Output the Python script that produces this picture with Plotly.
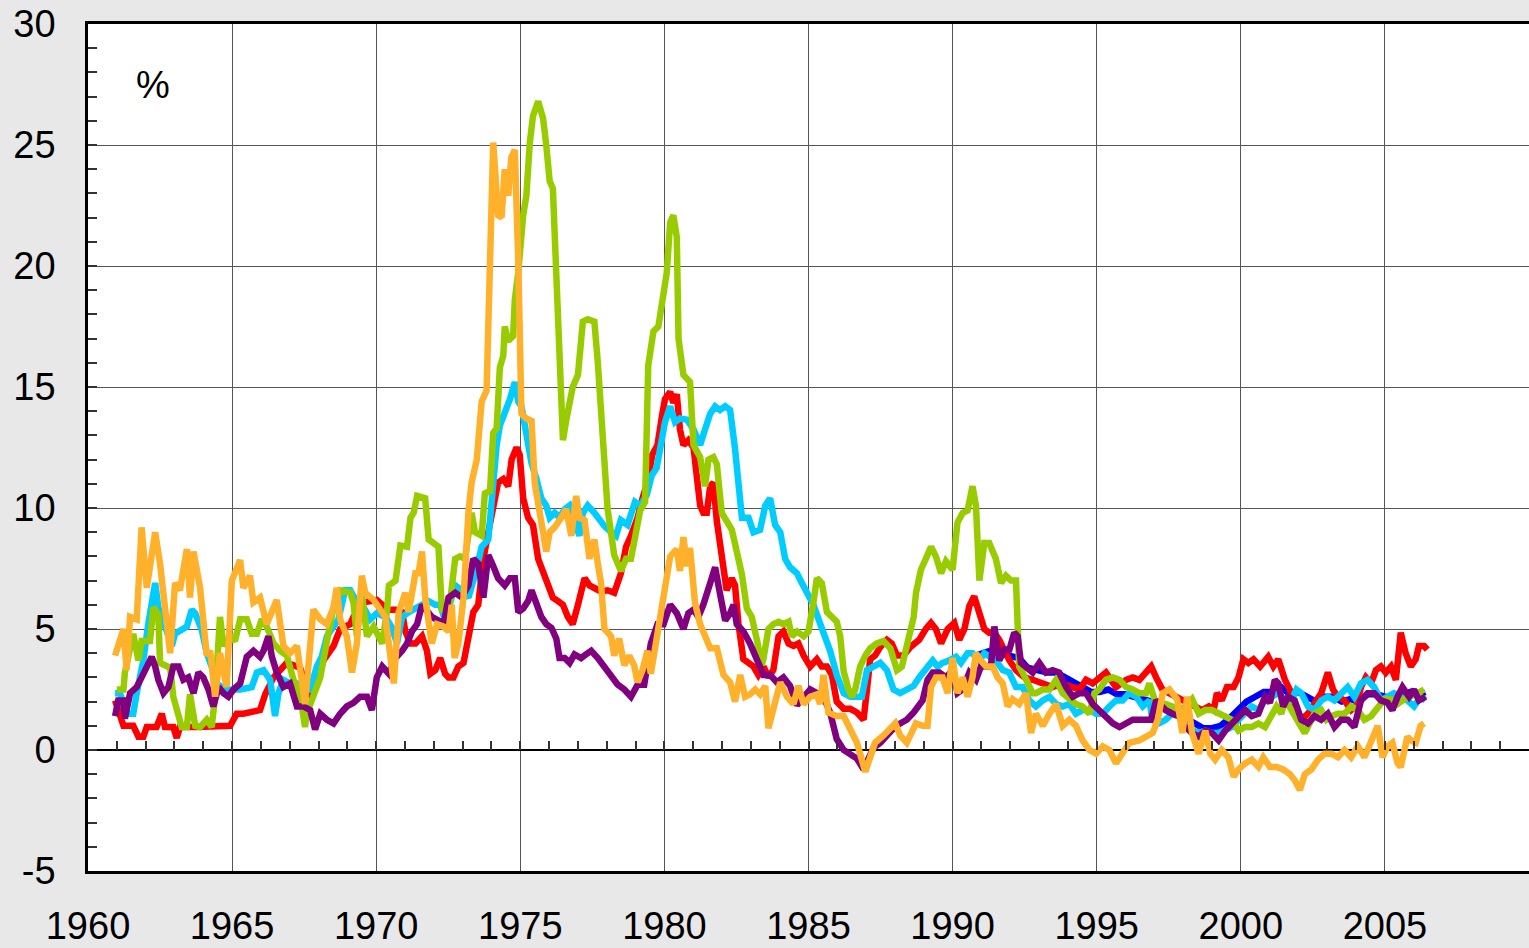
import plotly.graph_objects as go

# inflation rates, %
orange_x = [1960.94, 1961.05, 1961.23, 1961.34, 1961.46, 1961.69, 1961.86, 1962.04, 1962.15, 1962.33,
            1962.5, 1962.85, 1963.02, 1963.19, 1963.43, 1963.54, 1963.66, 1963.89, 1964.12, 1964.24,
            1964.41, 1964.58, 1964.81, 1964.99, 1965.28, 1965.39, 1965.62, 1965.74, 1965.97, 1966.2,
            1966.55, 1966.78, 1967.01, 1967.25, 1967.53, 1967.82, 1968.06, 1968.29, 1968.52, 1968.63,
            1968.75, 1968.98, 1969.16, 1969.33, 1969.5, 1969.62, 1969.91, 1970.32, 1970.61, 1970.78,
            1971.01, 1971.13, 1971.36, 1971.47, 1971.59, 1971.7, 1971.93, 1972.11, 1972.34, 1972.51,
            1972.62, 1972.72, 1972.85, 1973.03, 1973.2, 1973.31, 1973.49, 1973.66, 1973.83, 1973.95,
            1974.06, 1974.23, 1974.35, 1974.46, 1974.58, 1974.69, 1974.81, 1974.93, 1975.04, 1975.21,
            1975.39, 1975.5, 1975.73, 1975.9, 1976.02, 1976.19, 1976.42, 1976.59, 1976.77, 1976.94,
            1977.05, 1977.23, 1977.4, 1977.57, 1977.69, 1977.8, 1977.92, 1978.15, 1978.26, 1978.43,
            1978.61, 1978.78, 1978.95, 1979.07, 1979.24, 1979.41, 1979.53, 1979.76, 1979.93, 1980.2,
            1980.43, 1980.54, 1980.66, 1980.78, 1980.89, 1981.06, 1981.24, 1981.41, 1981.59, 1981.82,
            1982.05, 1982.28, 1982.45, 1982.63, 1982.8, 1982.97, 1983.15, 1983.32, 1983.5, 1983.61,
            1983.78, 1984.02, 1984.25, 1984.48, 1984.65, 1984.83, 1985.06, 1985.29, 1985.4, 1985.52,
            1985.69, 1985.98, 1986.22, 1986.45, 1986.68, 1986.97, 1987.14, 1987.31, 1987.6, 1987.84,
            1988.01, 1988.18, 1988.41, 1988.59, 1988.73, 1988.96, 1989.13, 1989.25, 1989.42, 1989.65,
            1989.83, 1990.0, 1990.17, 1990.35, 1990.52, 1990.69, 1990.81, 1990.98, 1991.16, 1991.39,
            1991.56, 1991.74, 1991.91, 1992.08, 1992.31, 1992.55, 1992.72, 1992.89, 1993.13, 1993.36,
            1993.59, 1993.82, 1994.05, 1994.28, 1994.51, 1994.75, 1994.98, 1995.21, 1995.44, 1995.67,
            1995.9, 1996.13, 1996.48, 1996.71, 1996.94, 1997.12, 1997.29, 1997.52, 1997.79, 1997.97,
            1998.14, 1998.31, 1998.54, 1998.77, 1998.94, 1999.11, 1999.34, 1999.57, 1999.75, 1999.92,
            2000.15, 2000.38, 2000.61, 2000.78, 2001.01, 2001.24, 2001.47, 2001.7, 2001.87, 2002.05,
            2002.22, 2002.45, 2002.68, 2002.91, 2003.14, 2003.37, 2003.6, 2003.83, 2004.06, 2004.29,
            2004.52, 2004.75, 2004.92, 2005.09, 2005.26, 2005.44, 2005.55, 2005.78, 2005.9, 2006.07,
            2006.24, 2006.36]
orange_y = [3.9, 4.4, 5.0, 3.3, 5.5, 5.4, 9.2, 6.7, 7.7, 9.0,
            7.7, 4.0, 6.9, 6.6, 8.3, 6.3, 8.2, 6.7, 3.9, 4.1,
            2.2, 4.0, 2.6, 7.0, 7.85, 6.7, 7.2, 6.1, 6.3, 5.2,
            6.2, 4.3, 4.0, 4.3, 1.9, 5.8, 5.4, 5.2, 5.9, 6.7,
            5.4, 4.7, 3.2, 4.4, 7.2, 6.5, 6.2, 5.5, 2.75, 5.7,
            6.5, 5.7, 7.3, 7.3, 8.2, 6.3, 4.4, 5.2, 5.1, 4.9,
            6.0, 3.8, 4.4, 6.3, 9.8, 11.05, 12.0, 14.4, 14.85, 21.8,
            25.1, 22.1, 22.0, 24.0, 22.9, 24.5, 24.8, 20.2, 13.9, 13.7,
            13.6, 11.05, 9.5, 8.2, 9.0, 9.2, 9.6, 9.95, 8.85, 10.5,
            9.6, 9.5, 7.9, 8.7, 7.7, 6.9, 5.0, 4.7, 3.9, 4.6,
            3.5, 3.9, 3.5, 2.8, 3.3, 4.1, 3.15, 4.7, 5.8, 8.0,
            8.3, 7.4, 8.8, 7.6, 8.35, 6.1, 5.2, 4.7, 4.2, 4.2,
            3.1, 2.8, 2.0, 3.1, 2.2, 2.3, 2.5, 2.3, 2.65, 0.9,
            1.7, 2.8, 2.2, 1.9, 2.65, 1.9, 2.2, 2.3, 1.9, 3.1,
            1.55, 1.4, 1.4, 0.9, 0.3, -0.9, -0.2, 0.3, 0.6, 0.9,
            1.1, 0.6, 0.3, 0.75, 1.1, 1.0, 1.0, 2.6, 3.0, 3.0,
            2.35, 3.8, 2.35, 3.0, 2.2, 3.0, 4.0, 3.7, 3.45, 3.45,
            3.0, 2.75, 1.8, 2.1, 1.9, 2.35, 0.7, 1.5, 1.0, 1.5,
            1.9, 1.0, 1.25, 1.0, 0.4, 0.0, -0.15, 0.15, 0.0, -0.55,
            -0.15, 0.3, 0.4, 0.55, 0.7, 1.25, 2.35, 2.5, 2.1, 0.7,
            2.2, 0.7, -0.15, 0.8, -0.15, -0.4, 0.0, -0.3, -1.1, -0.8,
            -0.55, -0.4, -0.7, -0.3, -0.7, -0.7, -0.8, -1.0, -1.25, -1.65,
            -1.0, -0.8, -0.4, -0.15, -0.15, -0.3, 0.0, -0.3, 0.15, -0.3,
            0.3, 1.0, -0.3, 0.15, 0.3, -0.55, -0.7, 0.55, 0.4, 0.3,
            1.0, 1.1]

green_x = [1961.0, 1961.23, 1961.28, 1961.57, 1961.75, 1961.86, 1962.15, 1962.27, 1962.44, 1962.5,
           1962.85, 1962.96, 1963.25, 1963.43, 1963.54, 1963.72, 1963.89, 1964.12, 1964.29, 1964.41,
           1964.58, 1964.7, 1964.93, 1965.1, 1965.28, 1965.51, 1965.68, 1965.86, 1966.03, 1966.2,
           1966.44, 1966.67, 1966.9, 1967.13, 1967.36, 1967.53, 1967.59, 1967.82, 1968.06, 1968.29,
           1968.52, 1968.75, 1969.1, 1969.21, 1969.33, 1969.5, 1969.68, 1969.91, 1970.21, 1970.38,
           1970.44, 1970.67, 1970.84, 1971.07, 1971.19, 1971.3, 1971.42, 1971.7, 1971.82, 1972.05,
           1972.16, 1972.28, 1972.45, 1972.57, 1972.74, 1972.91, 1973.08, 1973.31, 1973.43, 1973.66,
           1973.77, 1973.95, 1974.06, 1974.18, 1974.29, 1974.41, 1974.46, 1974.58, 1974.75, 1974.81,
           1974.93, 1975.1, 1975.21, 1975.33, 1975.44, 1975.62, 1975.79, 1975.9, 1976.02, 1976.13,
           1976.25, 1976.36, 1976.48, 1976.59, 1976.71, 1976.82, 1977.0, 1977.05, 1977.17, 1977.34,
           1977.57, 1977.69, 1977.8, 1977.92, 1978.03, 1978.26, 1978.49, 1978.67, 1978.84, 1979.16,
           1979.33, 1979.44, 1979.62, 1979.79, 1979.97, 1980.08, 1980.2, 1980.31, 1980.43, 1980.49,
           1980.66, 1980.89, 1981.01, 1981.24, 1981.41, 1981.53, 1981.7, 1981.82, 1981.99, 1982.16,
           1982.34, 1982.51, 1982.69, 1982.86, 1983.03, 1983.21, 1983.38, 1983.44, 1983.61, 1983.78,
           1983.96, 1984.13, 1984.31, 1984.42, 1984.6, 1984.83, 1985.0, 1985.17, 1985.29, 1985.46,
           1985.64, 1985.81, 1985.98, 1986.1, 1986.22, 1986.39, 1986.51, 1986.62, 1986.79, 1986.97,
           1987.14, 1987.37, 1987.6, 1987.84, 1988.07, 1988.24, 1988.47, 1988.65, 1988.73, 1988.9,
           1989.07, 1989.25, 1989.42, 1989.6, 1989.77, 1990.0, 1990.17, 1990.35, 1990.52, 1990.69,
           1990.81, 1990.93, 1991.1, 1991.27, 1991.5, 1991.68, 1991.85, 1992.03, 1992.2, 1992.26,
           1992.31, 1992.43, 1992.6, 1992.78, 1992.89, 1993.13, 1993.36, 1993.59, 1993.82, 1994.05,
           1994.28, 1994.51, 1994.75, 1994.92, 1995.09, 1995.32, 1995.56, 1995.79, 1996.02, 1996.25,
           1996.48, 1996.71, 1996.83, 1997.06, 1997.39, 1997.62, 1997.85, 1998.08, 1998.31, 1998.54,
           1998.77, 1999.0, 1999.23, 1999.46, 1999.69, 1999.92, 2000.15, 2000.38, 2000.61, 2000.84,
           2001.07, 2001.24, 2001.41, 2001.53, 2001.76, 2001.87, 2002.1, 2002.22, 2002.39, 2002.56,
           2002.79, 2002.97, 2003.14, 2003.37, 2003.6, 2003.83, 2004.06, 2004.29, 2004.52, 2004.75,
           2004.98, 2005.21, 2005.44, 2005.67, 2005.9, 2006.13, 2006.36]
green_y = [2.5, 2.5, 3.2, 4.8, 3.7, 4.5, 4.5, 5.9, 5.6, 3.6,
           3.4, 2.2, 0.95, 0.95, 2.3, 1.0, 0.95, 1.25, 0.95, 2.2,
           5.5, 4.3, 4.7, 4.5, 5.4, 5.4, 4.8, 4.8, 5.4, 5.1,
           4.4, 4.1, 3.9, 2.9, 2.3, 0.95, 1.5, 2.2, 3.0, 4.5,
           5.9, 6.6, 6.5, 6.1, 4.7, 6.5, 4.7, 5.1, 4.4, 5.8,
           6.8, 7.0, 8.45, 8.4, 9.6, 9.8, 10.5, 10.4, 8.7, 8.5,
           8.4, 5.8, 5.8, 6.2, 7.9, 8.0, 7.9, 9.8, 9.0, 8.85,
           10.6, 10.7, 13.1, 13.3, 15.8, 16.3, 17.5, 16.9, 17.1, 18.6,
           19.75, 22.1, 22.9, 25.1, 26.2, 26.8, 26.1, 25.0, 23.5, 23.2,
           19.75, 15.3, 12.8, 13.6, 14.5, 15.0, 15.5, 16.3, 17.7, 17.8,
           17.7, 16.0, 14.2, 12.3, 9.95, 8.05, 7.4, 7.9, 7.9, 9.9,
           10.25, 15.9, 17.3, 17.5, 18.9, 19.7, 21.8, 22.1, 21.2, 17.0,
           15.5, 15.2, 12.6, 12.1, 10.9, 12.0, 12.1, 11.8, 9.8, 9.45,
           9.1, 8.2, 7.25, 5.85, 5.5, 4.55, 3.5, 3.8, 5.0, 5.2,
           5.3, 5.2, 5.3, 4.7, 4.9, 4.7, 4.9, 6.1, 7.1, 6.9,
           5.7, 5.5, 5.3, 4.7, 3.25, 2.5, 2.2, 2.5, 3.45, 3.9,
           4.2, 4.4, 4.5, 4.2, 3.3, 3.45, 4.55, 5.5, 6.5, 7.45,
           7.9, 8.4, 8.0, 7.3, 7.8, 7.45, 9.4, 9.8, 9.9, 10.9,
           10.1, 7.0, 8.55, 8.55, 7.9, 6.9, 7.2, 7.0, 7.0, 5.1,
           3.45, 3.2, 2.75, 2.35, 2.35, 2.5, 2.5, 2.9, 2.35, 2.1,
           1.9, 1.8, 1.5, 2.35, 2.5, 2.9, 3.0, 2.9, 2.6, 2.5,
           2.35, 2.35, 2.75, 1.9, 1.9, 1.8, 1.65, 1.8, 2.1, 1.5,
           1.65, 1.65, 1.5, 1.4, 1.25, 0.8, 0.95, 0.95, 1.1, 0.95,
           1.4, 1.8, 1.5, 2.1, 1.65, 1.4, 0.95, 0.7, 1.1, 1.5,
           1.65, 1.25, 1.4, 1.5, 1.5, 1.8, 1.65, 1.25, 1.4, 1.8,
           2.1, 2.1, 1.9, 2.1, 2.2, 2.35, 2.5]

red_x = [1960.94, 1961.11, 1961.23, 1961.57, 1961.75, 1961.92, 1962.04, 1962.38, 1962.56, 1962.67,
         1962.96, 1963.08, 1963.19, 1963.77, 1964.35, 1964.93, 1965.16, 1965.39, 1965.97, 1966.15,
         1966.44, 1966.9, 1967.36, 1967.59, 1967.71, 1967.94, 1968.17, 1968.52, 1968.75, 1969.1,
         1969.21, 1969.56, 1970.02, 1970.21, 1970.44, 1970.67, 1970.9, 1971.01, 1971.19, 1971.36,
         1971.59, 1971.76, 1971.88, 1972.05, 1972.22, 1972.39, 1972.51, 1972.68, 1972.85, 1973.03,
         1973.2, 1973.37, 1973.54, 1973.72, 1973.89, 1974.06, 1974.23, 1974.41, 1974.58, 1974.7,
         1974.87, 1974.98, 1975.1, 1975.27, 1975.44, 1975.62, 1975.79, 1975.96, 1976.13, 1976.31,
         1976.48, 1976.65, 1976.82, 1977.0, 1977.23, 1977.4, 1977.57, 1977.8, 1978.03, 1978.26,
         1978.49, 1978.67, 1978.84, 1979.07, 1979.24, 1979.41, 1979.58, 1979.76, 1979.93, 1980.02,
         1980.2, 1980.31, 1980.43, 1980.54, 1980.66, 1980.83, 1981.01, 1981.12, 1981.24, 1981.35,
         1981.47, 1981.59, 1981.7, 1981.82, 1981.99, 1982.16, 1982.34, 1982.45, 1982.57, 1982.74,
         1982.92, 1983.09, 1983.26, 1983.44, 1983.61, 1983.78, 1983.96, 1984.13, 1984.31, 1984.48,
         1984.65, 1984.83, 1985.06, 1985.29, 1985.46, 1985.64, 1985.81, 1985.98, 1986.22, 1986.45,
         1986.68, 1986.91, 1987.03, 1987.14, 1987.31, 1987.49, 1987.72, 1987.89, 1988.07, 1988.3,
         1988.53, 1988.84, 1989.07, 1989.25, 1989.42, 1989.6, 1989.83, 1990.06, 1990.23, 1990.41,
         1990.58, 1990.75, 1990.93, 1991.1, 1991.27, 1991.45, 1991.62, 1991.97, 1992.2, 1992.49,
         1992.78, 1993.13, 1993.47, 1993.82, 1994.17, 1994.4, 1994.63, 1994.86, 1995.32, 1995.67,
         1996.02, 1996.25, 1996.48, 1996.71, 1996.89, 1997.06, 1997.28, 1997.51, 1997.74, 1997.97,
         1998.2, 1998.43, 1998.66, 1998.89, 1999.06, 1999.17, 1999.34, 1999.52, 1999.75, 1999.92,
         2000.09, 2000.26, 2000.44, 2000.67, 2000.95, 2001.13, 2001.3, 2001.53, 2001.76, 2001.93,
         2002.1, 2002.33, 2002.56, 2002.79, 2003.02, 2003.2, 2003.37, 2003.6, 2003.83, 2004.0,
         2004.17, 2004.34, 2004.52, 2004.69, 2004.86, 2005.03, 2005.21, 2005.38, 2005.55, 2005.72,
         2005.9, 2006.07, 2006.18, 2006.36, 2006.47]
red_y = [2.05, 1.5, 1.0, 1.0, 0.55, 0.55, 0.95, 0.95, 1.5, 0.95,
         0.95, 0.5, 0.95, 0.95, 1.0, 1.0, 1.5, 1.5, 1.65, 2.3,
         3.0, 3.6, 3.4, 2.5, 2.2, 2.9, 3.7, 4.3, 5.0, 5.2,
         5.5, 6.1, 6.2, 6.0, 5.8, 5.8, 5.7, 4.9, 4.4, 4.4,
         4.7, 4.1, 3.15, 3.3, 3.8, 3.15, 3.0, 3.0, 3.45, 3.6,
         4.7, 5.7, 6.0, 7.9, 9.0, 10.1, 11.05, 11.2, 10.9, 12.0,
         12.5, 12.2, 10.4, 9.6, 9.3, 7.9, 7.3, 6.8, 6.3, 6.15,
         6.0, 5.5, 5.2, 6.0, 7.1, 6.8, 6.7, 6.55, 6.6, 6.5,
         7.3, 8.4, 8.85, 9.6, 10.4, 11.05, 12.2, 12.6, 13.9, 14.5,
         14.8, 14.35, 14.7, 13.25, 12.6, 12.8, 12.5, 11.35, 10.1, 9.8,
         9.8, 10.9, 11.05, 9.45, 8.2, 6.6, 7.1, 6.8, 5.2, 3.75,
         3.6, 3.45, 3.1, 3.45, 3.0, 3.3, 4.7, 4.9, 4.4, 4.3,
         4.4, 3.9, 3.45, 3.75, 3.45, 3.45, 3.1, 2.0, 1.7, 1.7,
         1.55, 1.25, 2.5, 3.75, 3.9, 4.25, 4.55, 4.4, 3.9, 3.9,
         4.25, 4.55, 5.0, 5.25, 5.0, 4.4, 5.0, 5.25, 4.55, 5.0,
         5.95, 6.35, 5.65, 5.0, 4.85, 4.85, 4.55, 3.7, 3.3, 3.0,
         2.9, 2.75, 2.6, 2.75, 2.6, 2.5, 2.9, 2.75, 3.2, 2.6,
         2.9, 3.0, 2.9, 3.2, 3.45, 3.0, 2.5, 2.35, 2.2, 2.05,
         1.9, 1.8, 1.65, 1.8, 1.65, 2.35, 2.05, 2.6, 2.6, 3.0,
         3.75, 3.6, 3.75, 3.45, 3.85, 3.45, 3.75, 2.9, 2.35, 1.65,
         1.25, 1.5, 1.9, 2.35, 3.2, 2.5, 2.2, 2.05, 1.65, 1.8,
         2.6, 3.0, 2.75, 3.3, 3.45, 3.2, 3.45, 2.9, 4.85, 4.0,
         3.45, 3.75, 4.3, 4.3, 4.15]

cyan_x = [1960.94, 1961.11, 1961.34, 1961.57, 1961.69, 1961.92, 1962.09, 1962.33, 1962.44, 1962.67,
          1962.91, 1963.02, 1963.19, 1963.43, 1963.6, 1963.72, 1963.95, 1964.12, 1964.29, 1964.47,
          1964.64, 1964.81, 1965.28, 1965.68, 1965.86, 1966.09, 1966.32, 1966.49, 1966.61, 1966.78,
          1967.01, 1967.25, 1967.48, 1967.71, 1967.94, 1968.11, 1968.29, 1968.52, 1968.69, 1968.92,
          1969.1, 1969.33, 1969.56, 1969.79, 1970.02, 1970.32, 1970.55, 1970.72, 1970.9, 1971.13,
          1971.36, 1971.59, 1971.82, 1972.05, 1972.22, 1972.39, 1972.57, 1972.74, 1972.97, 1973.2,
          1973.43, 1973.66, 1973.89, 1974.06, 1974.18, 1974.29, 1974.46, 1974.64, 1974.81, 1974.93,
          1975.04, 1975.16, 1975.27, 1975.39, 1975.56, 1975.73, 1975.9, 1976.02, 1976.19, 1976.36,
          1976.54, 1976.71, 1976.88, 1977.05, 1977.17, 1977.34, 1977.57, 1977.74, 1977.92, 1978.15,
          1978.32, 1978.49, 1978.72, 1978.98, 1979.16, 1979.39, 1979.56, 1979.73, 1979.91, 1980.02,
          1980.2, 1980.37, 1980.54, 1980.78, 1981.01, 1981.24, 1981.41, 1981.59, 1981.76, 1981.93,
          1982.11, 1982.28, 1982.45, 1982.57, 1982.69, 1982.92, 1983.09, 1983.32, 1983.5, 1983.67,
          1983.84, 1984.02, 1984.19, 1984.36, 1984.6, 1984.77, 1985.0, 1985.17, 1985.41, 1985.58,
          1985.75, 1985.98, 1986.22, 1986.45, 1986.85, 1987.03, 1987.26, 1987.49, 1987.72, 1987.95,
          1988.18, 1988.41, 1988.65, 1988.84, 1989.07, 1989.31, 1989.48, 1989.65, 1989.88, 1990.12,
          1990.29, 1990.52, 1990.69, 1990.93, 1991.1, 1991.33, 1991.5, 1991.74, 1991.97, 1992.2,
          1992.43, 1992.66, 1992.89, 1993.13, 1993.36, 1993.59, 1993.82, 1994.05, 1994.28, 1994.51,
          1994.75, 1994.98, 1995.21, 1995.44, 1995.67, 1995.9, 1996.13, 1996.37, 1996.6, 1996.83,
          1996.93, 1997.16, 1997.39, 1997.62, 1997.85, 1998.08, 1998.31, 1998.54, 1998.77, 1999.0,
          1999.23, 1999.46, 1999.69, 1999.92, 2000.15, 2000.38, 2000.61, 2000.84, 2001.07, 2001.3,
          2001.53, 2001.76, 2001.93, 2002.1, 2002.33, 2002.56, 2002.79, 2003.02, 2003.25, 2003.48,
          2003.71, 2003.94, 2004.17, 2004.4, 2004.63, 2004.86, 2005.09, 2005.32, 2005.55, 2005.78,
          2006.01, 2006.24, 2006.41]
cyan_y = [2.35, 2.35, 1.5, 1.5, 2.35, 3.7, 5.2, 6.9, 5.9, 5.2,
          4.3, 4.8, 4.95, 5.1, 5.8, 5.65, 4.95, 4.0, 3.45, 2.75,
          2.6, 2.5, 2.5, 2.6, 3.2, 3.3, 2.9, 1.4, 2.35, 2.9,
          2.75, 2.75, 2.6, 2.5, 3.45, 3.85, 4.7, 5.1, 5.4, 6.6,
          6.6, 6.1, 5.9, 5.4, 5.65, 5.5, 5.05, 4.4, 5.5, 5.7,
          5.85, 6.0, 6.15, 6.0, 6.0, 5.35, 6.15, 6.8, 6.6, 6.3,
          7.25, 8.4, 8.7, 11.05, 12.6, 13.4, 13.9, 14.5, 15.2, 14.4,
          14.2, 13.4, 12.6, 11.85, 11.2, 10.4, 10.1, 9.6, 9.8, 9.6,
          9.95, 10.1, 9.5, 8.85, 9.8, 10.1, 9.8, 9.5, 9.25, 9.0,
          8.85, 9.5, 9.3, 10.25, 10.1, 10.55, 11.35, 11.65, 12.8, 13.55,
          14.2, 13.55, 13.7, 13.65, 13.25, 12.6, 13.25, 13.9, 14.2, 14.05,
          14.2, 14.05, 12.45, 10.7, 9.6, 9.6, 9.0, 9.1, 10.1, 10.4,
          9.3, 9.0, 7.9, 7.55, 7.3, 6.9, 6.45, 6.0, 5.2, 4.7,
          4.1, 3.1, 2.35, 2.2, 2.2, 3.3, 3.45, 3.6, 3.3, 2.5,
          2.35, 2.5, 2.65, 3.0, 3.3, 3.7, 3.45, 3.6, 3.7, 3.85,
          3.6, 4.0, 4.0, 3.7, 4.0, 3.85, 3.7, 3.3, 3.2, 2.6,
          2.6, 2.05, 1.8, 2.05, 2.2, 1.9, 1.8, 1.9, 1.5, 1.65,
          1.65, 1.5, 1.5, 1.8, 2.05, 2.05, 2.35, 2.2, 1.8, 2.05,
          1.25, 1.1, 1.25, 1.5, 1.4, 0.95, 0.8, 0.7, 0.8, 0.7,
          0.7, 0.8, 0.95, 1.25, 1.5, 1.8, 1.65, 2.05, 2.2, 2.35,
          2.05, 2.05, 2.5, 2.35, 1.8, 1.65, 2.05, 2.2, 2.05, 2.35,
          2.6, 2.2, 2.75, 2.9, 2.6, 2.05, 2.2, 2.35, 2.2, 2.05,
          1.8, 2.2, 2.05]

purple_x = [1960.94, 1961.05, 1961.23, 1961.28, 1961.46, 1961.69, 1961.86, 1962.04, 1962.21, 1962.33,
            1962.44, 1962.62, 1962.79, 1962.96, 1963.14, 1963.31, 1963.48, 1963.66, 1963.83, 1964.0,
            1964.18, 1964.35, 1964.53, 1964.7, 1964.87, 1965.05, 1965.28, 1965.51, 1965.74, 1965.97,
            1966.09, 1966.26, 1966.38, 1966.55, 1966.78, 1967.01, 1967.25, 1967.48, 1967.71, 1967.88,
            1968.06, 1968.29, 1968.52, 1968.75, 1968.98, 1969.21, 1969.44, 1969.68, 1969.85, 1970.02,
            1970.21, 1970.44, 1970.67, 1970.9, 1971.07, 1971.24, 1971.42, 1971.59, 1971.76, 1971.93,
            1972.16, 1972.34, 1972.51, 1972.74, 1972.97, 1973.2, 1973.37, 1973.54, 1973.72, 1973.89,
            1974.06, 1974.23, 1974.46, 1974.64, 1974.81, 1974.93, 1975.1, 1975.27, 1975.39, 1975.56,
            1975.73, 1975.9, 1976.08, 1976.25, 1976.36, 1976.54, 1976.71, 1976.88, 1977.11, 1977.28,
            1977.46, 1977.69, 1977.92, 1978.15, 1978.38, 1978.61, 1978.84, 1979.07, 1979.3, 1979.53,
            1979.76, 1979.97, 1980.2, 1980.43, 1980.66, 1980.83, 1981.01, 1981.18, 1981.35, 1981.59,
            1981.76, 1981.93, 1982.11, 1982.28, 1982.4, 1982.51, 1982.74, 1982.97, 1983.21, 1983.44,
            1983.67, 1983.9, 1984.13, 1984.36, 1984.6, 1984.83, 1985.06, 1985.29, 1985.52, 1985.75,
            1985.98, 1986.22, 1986.45, 1986.68, 1986.91, 1987.08, 1987.26, 1987.49, 1987.72, 1987.95,
            1988.18, 1988.41, 1988.65, 1988.96, 1989.13, 1989.31, 1989.54, 1989.77, 1990.0, 1990.17,
            1990.35, 1990.58, 1990.81, 1990.98, 1991.16, 1991.33, 1991.45, 1991.62, 1991.8, 1991.97,
            1992.14, 1992.26, 1992.37, 1992.55, 1992.78, 1993.01, 1993.24, 1993.47, 1993.7, 1993.94,
            1994.17, 1994.4, 1994.63, 1994.86, 1995.09, 1995.32, 1995.56, 1995.79, 1996.02, 1996.25,
            1996.71, 1996.89, 1997.06, 1997.39, 1997.62, 1997.85, 1998.08, 1998.31, 1998.54, 1998.77,
            1999.0, 1999.23, 1999.46, 1999.69, 1999.92, 2000.15, 2000.38, 2000.61, 2000.84, 2001.01,
            2001.18, 2001.3, 2001.47, 2001.64, 2001.87, 2002.1, 2002.33, 2002.56, 2002.79, 2003.02,
            2003.25, 2003.48, 2003.71, 2003.94, 2004.17, 2004.4, 2004.63, 2004.86, 2005.09, 2005.26,
            2005.44, 2005.61, 2005.84, 2006.01, 2006.18, 2006.41]
purple_y = [1.4, 2.05, 2.05, 1.3, 2.35, 2.6, 3.0, 3.45, 3.85, 3.45,
            2.9, 2.35, 2.6, 3.45, 3.45, 2.9, 3.0, 2.35, 3.2, 3.0,
            2.5, 1.8, 2.6, 2.35, 2.2, 2.5, 2.75, 3.85, 4.1, 3.85,
            4.1, 4.7, 3.85, 3.2, 2.6, 2.75, 1.8, 1.8, 1.65, 0.85,
            1.5, 1.25, 1.1, 1.5, 1.8, 1.95, 2.2, 2.2, 1.65, 3.0,
            3.45, 3.15, 3.8, 4.1, 4.4, 4.9, 5.2, 6.0, 5.7, 5.5,
            5.35, 5.2, 6.3, 6.5, 6.3, 6.8, 7.9, 7.7, 6.3, 8.05,
            7.6, 7.1, 6.8, 7.1, 7.1, 5.7, 5.85, 6.15, 6.6, 6.0,
            5.5, 5.2, 5.05, 4.6, 3.8, 3.8, 3.6, 3.95, 3.8, 3.95,
            4.1, 3.8, 3.45, 3.15, 2.7, 2.5, 2.2, 2.7, 2.7, 4.4,
            5.2, 5.2, 6.0, 5.65, 5.0, 5.65, 5.8, 5.5, 6.0, 6.9,
            7.55, 6.45, 5.35, 5.65, 6.0, 5.2, 4.9, 4.4, 3.75, 3.1,
            3.1, 2.8, 3.0, 2.65, 1.85, 2.2, 2.5, 2.35, 2.2, 1.55,
            0.45, 0.0, -0.2, -0.35, -0.8, -0.35, 0.1, 0.3, 0.6, 0.9,
            1.1, 1.25, 1.55, 2.05, 2.9, 3.2, 3.2, 3.0, 3.3, 2.35,
            2.5, 3.2, 2.9, 3.45, 3.45, 3.45, 5.1, 3.7, 4.15, 4.15,
            4.85, 4.7, 3.6, 3.45, 3.2, 3.6, 3.2, 3.3, 3.2, 2.6,
            2.2, 2.35, 2.35, 1.9, 1.65, 1.4, 1.1, 0.95, 1.1, 1.25,
            1.25, 1.25, 2.05, 1.65, 1.5, 1.4, 0.95, 0.7, 0.55, 0.8,
            0.7, 0.4, 0.8, 1.1, 1.4, 1.65, 1.4, 1.5, 2.2, 1.95,
            2.9, 2.75, 1.8, 2.2, 2.05, 1.25, 1.1, 1.4, 1.25, 1.5,
            0.95, 1.25, 1.25, 0.95, 2.05, 2.35, 2.35, 2.05, 1.95, 1.65,
            2.2, 2.6, 2.2, 2.5, 2.05, 2.2]

blue_x = [1990.8, 1991.0, 1991.3, 1991.6, 1992.0, 1992.3, 1992.6, 1993.0, 1993.3, 1993.6,
          1993.9, 1994.2, 1994.5, 1994.8, 1995.1, 1995.4, 1995.7, 1996.0, 1996.3, 1996.6,
          1996.9, 1997.2, 1997.5, 1997.8, 1998.1, 1998.4, 1998.7, 1999.0, 1999.3, 1999.6,
          1999.9, 2000.2, 2000.5, 2000.8, 2001.1, 2001.4, 2001.7, 2002.0, 2002.3, 2002.6,
          2002.9, 2003.2, 2003.5, 2003.8, 2004.1, 2004.4, 2004.7, 2005.0, 2005.3, 2005.6,
          2005.9, 2006.2, 2006.4]
blue_y = [3.9, 4.0, 4.1, 4.0, 3.9, 3.8, 3.4, 3.3, 3.2, 3.2,
          3.0, 2.8, 2.6, 2.4, 2.4, 2.5, 2.3, 2.3, 2.2, 2.1,
          2.0, 1.8, 1.8, 1.7, 1.3, 1.1, 0.9, 0.9, 1.0, 1.3,
          1.7, 2.0, 2.2, 2.4, 2.4, 2.6, 2.3, 2.4, 2.2, 2.0,
          2.2, 2.2, 2.0, 2.1, 2.0, 2.3, 2.3, 2.2, 2.1, 2.3,
          2.4, 2.3, 2.4]

y_ticks = [-5, 0, 5, 10, 15, 20, 25, 30]
y_labels = ["-5", "0", "5", "10", "15", "20", "25", "30"]

series = [
    (blue_x, blue_y, "#0000FF"),
    (red_x, red_y, "#FF0000"),
    (cyan_x, cyan_y, "#00CCFF"),
    (green_x, green_y, "#99CC00"),
    (purple_x, purple_y, "#800080"),
    (orange_x, orange_y, "#FFB12B"),
]

fig = go.Figure()
for xs, ys, col in series:
    fig.add_trace(go.Scatter(x=xs, y=ys, mode="lines",
                             line=dict(color=col, width=6.5), showlegend=False, hoverinfo="skip"))

# empty trace so the year ticks along the zero line get drawn
fig.add_trace(go.Scatter(x=[None], y=[None], xaxis="x2", yaxis="y", showlegend=False))

font = "Arial, Liberation Sans, sans-serif"
fig.update_layout(
    width=1529, height=948,
    margin=dict(l=88, r=0, t=24, b=77, autoexpand=False),
    paper_bgcolor="#E8E8E8",
    plot_bgcolor="white",
    font=dict(family=font, size=38, color="black"),
    xaxis=dict(range=[1960, 2010], tick0=1960, dtick=5, showgrid=True,
               gridcolor="#555555", gridwidth=1, showline=True, linecolor="black",
               linewidth=2.5, mirror=True, ticks="", zeroline=False, automargin=False,
               ticklabelstandoff=20, tickfont=dict(size=38)),
    xaxis2=dict(range=[1960, 2010], tick0=1960, dtick=1, overlaying="x",
                anchor="free", position=5 / 35, side="bottom", ticks="inside",
                ticklen=9, tickwidth=1.5, tickcolor="#333333", showticklabels=False,
                showgrid=False, zeroline=False, showline=False, automargin=False),
    yaxis=dict(range=[-5, 30], tickvals=y_ticks, ticktext=y_labels, showgrid=True,
               gridcolor="#555555", gridwidth=1, showline=True, linecolor="black",
               linewidth=2.5, ticks="inside", ticklen=9, tickwidth=1.5,
               tickcolor="#333333", zeroline=True, zerolinecolor="black",
               zerolinewidth=1.5, ticklabelstandoff=22, tickfont=dict(size=38),
               automargin=False,
               minor=dict(dtick=1, ticks="inside", ticklen=9, tickwidth=1.5,
                          tickcolor="#333333", showgrid=False)),
    annotations=[dict(x=1962.25, y=27.5, xref="x", yref="y", text="%",
                      showarrow=False, font=dict(size=38, family=font))],
)

# page flush with the window: no body margin, no scroll area, no inline gap
page_fix = (
    "document.documentElement.style.overflow='hidden';"
    "document.body.style.margin='0';"
    "document.body.style.overflow='hidden';"
    "document.querySelectorAll('.svg-container').forEach(function(e){e.style.display='block';});"
)
fig.write_html("out.html", config={"displayModeBar": False}, post_script=page_fix)
